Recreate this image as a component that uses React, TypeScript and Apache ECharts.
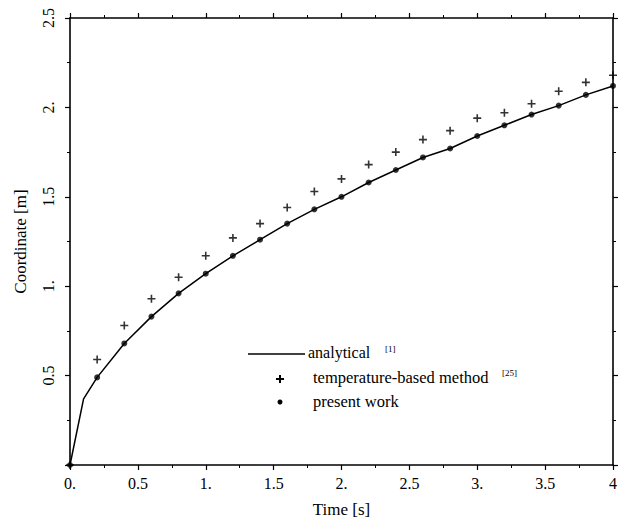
import React, { useEffect, useRef } from "react";
import * as echarts from "echarts";

const timeValues = [0, 0.2, 0.4, 0.6, 0.8, 1.0, 1.2, 1.4, 1.6, 1.8, 2.0, 2.2, 2.4, 2.6, 2.8, 3.0, 3.2, 3.4, 3.6, 3.8, 4.0];
const presentWork = [0, 0.49, 0.68, 0.83, 0.96, 1.07, 1.17, 1.26, 1.35, 1.43, 1.5, 1.58, 1.65, 1.72, 1.77, 1.84, 1.9, 1.96, 2.01, 2.07, 2.12];
const temperatureBased = [0, 0.59, 0.78, 0.93, 1.05, 1.17, 1.27, 1.35, 1.44, 1.53, 1.6, 1.68, 1.75, 1.82, 1.87, 1.94, 1.97, 2.02, 2.09, 2.14, 2.18];
const analyticalX = [0, 0.1, 0.2, 0.4, 0.6, 0.8, 1.0, 1.2, 1.4, 1.6, 1.8, 2.0, 2.2, 2.4, 2.6, 2.8, 3.0, 3.2, 3.4, 3.6, 3.8, 4.0];
const analyticalY = [0, 0.37, 0.49, 0.68, 0.83, 0.96, 1.07, 1.17, 1.26, 1.35, 1.43, 1.5, 1.58, 1.65, 1.72, 1.77, 1.84, 1.9, 1.96, 2.01, 2.07, 2.12];

const FONT = "Liberation Serif";
const PLUS = "path://M4,0h2v4h4v2h-4v4h-2v-4h-4v-2h4z";

const fmtX = (v: number) => (v === 4 ? "4" : Number.isInteger(v) ? v + "." : String(v));
const fmtY = (v: number) => (v === 0 ? "" : Number.isInteger(v) ? v + "." : String(v));

export default function App() {
  const ref = useRef<HTMLDivElement>(null);
  useEffect(() => {
    if (!ref.current) return;
    const chart = echarts.init(ref.current, null, { renderer: "svg" });
    const axisCommon = {
      type: "value" as const,
      axisLine: { show: true, onZero: false, lineStyle: { color: "#000", width: 1.6 } },
      axisTick: { show: true, inside: false, length: 5, lineStyle: { color: "#000", width: 1.2 } },
      minorTick: { show: true, splitNumber: 2, length: 3, lineStyle: { color: "#000", width: 1 } },
      splitLine: { show: false },
    };
    const legendText = (text: string, x: number, y: number, size: number) => ({
      type: "text",
      x,
      y,
      style: { text, fontFamily: FONT, fontSize: size, fill: "#000", verticalAlign: "middle" },
    });
    chart.setOption({
      animation: false,
      backgroundColor: "#fff",
      grid: { left: 70, right: 5, top: 18, bottom: 63, containLabel: false, outerBoundsMode: "none" },
      xAxis: [
        {
          ...axisCommon,
          min: 0,
          max: 4,
          interval: 0.5,
          name: "Time [s]",
          nameLocation: "middle",
          nameGap: 36,
          nameTextStyle: { fontFamily: FONT, fontSize: 17, color: "#000" },
          axisLabel: { formatter: fmtX, fontFamily: FONT, fontSize: 16, color: "#000", margin: 10 },
        },
        {
          ...axisCommon,
          position: "top",
          min: 0,
          max: 4,
          interval: 0.5,
          axisLabel: { show: false },
        },
      ],
      yAxis: [
        {
          ...axisCommon,
          min: 0,
          max: 2.5,
          interval: 0.5,
          name: "Coordinate [m]",
          nameLocation: "middle",
          nameGap: 41,
          nameTextStyle: { fontFamily: FONT, fontSize: 17, color: "#000" },
          axisLabel: { formatter: fmtY, rotate: 90, fontFamily: FONT, fontSize: 16, color: "#000", margin: 14 },
        },
        {
          ...axisCommon,
          position: "right",
          min: 0,
          max: 2.5,
          interval: 0.5,
          axisLabel: { show: false },
        },
      ],
      series: [
        {
          name: "analytical",
          type: "line",
          data: analyticalX.map((x, i) => [x, analyticalY[i]]),
          showSymbol: false,
          symbol: "none",
          lineStyle: { color: "#000", width: 1.5 },
        },
        {
          name: "temperature-based method",
          type: "scatter",
          data: timeValues.map((x, i) => [x, temperatureBased[i]]),
          symbol: PLUS,
          symbolSize: 8,
          itemStyle: { color: "#000" },
        },
        {
          name: "present work",
          type: "scatter",
          data: timeValues.map((x, i) => [x, presentWork[i]]),
          symbol: "circle",
          symbolSize: 6,
          itemStyle: { color: "#000" },
        },
      ],
      graphic: [
        { type: "line", shape: { x1: 248, y1: 354, x2: 305, y2: 354 }, style: { stroke: "#000", lineWidth: 1.5 } },
        legendText("analytical", 308, 352, 16),
        legendText("[1]", 385, 349, 9),
        { type: "polygon", shape: { points: [[279, 375], [281, 375], [281, 378], [284, 378], [284, 380], [281, 380], [281, 383], [279, 383], [279, 380], [276, 380], [276, 378], [279, 378]] }, style: { fill: "#000" } },
        legendText("temperature-based method", 313, 377, 16.5),
        legendText("[25]", 502, 373, 9),
        { type: "circle", shape: { cx: 280, cy: 402, r: 2.5 }, style: { fill: "#000" } },
        legendText("present work", 313, 401, 16.5),
      ],
    });
    return () => chart.dispose();
  }, []);
  return <div ref={ref} style={{ width: 618, height: 528, position: "absolute", left: 0, top: 0 }} />;
}
